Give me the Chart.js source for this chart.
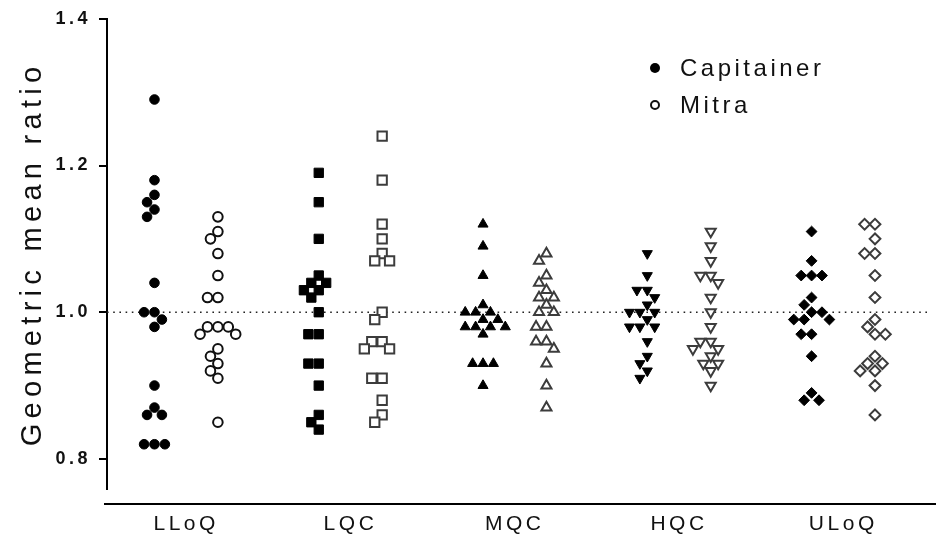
<!DOCTYPE html>
<html>
<head>
<meta charset="utf-8">
<script src="https://cdn.jsdelivr.net/npm/chart.js@4.4.1/dist/chart.umd.min.js"></script>
<style>
  body { margin: 0; background: #fff; }
  #wrap { position: relative; width: 936px; height: 546px; }
  #legend { position: absolute; left: 650px; top: 49px; font-family: "Liberation Sans", Arial, sans-serif;
            font-size: 24px; letter-spacing: 3.5px; color: #111; }
  .row { height: 37px; display: flex; align-items: center; }
  .dot { width: 10px; height: 10px; border-radius: 50%; margin-right: 20px; box-sizing: border-box; }
</style>
</head>
<body>
<div id="wrap">
  <canvas id="myChart" width="936" height="546"></canvas>
  <div id="legend"></div>
</div>
<script>
"use strict";

// groepen op de x-as
const categories = ["LLoQ", "LQC", "MQC", "HQC", "ULoQ"];
const methods = ["Capitainer", "Mitra"];
const yTicks = [0.8, 1.0, 1.2, 1.4];
const refLine = 1.0;

const capLLoQ = [1.29, 1.18, 1.16, 1.15, 1.14, 1.13, 1.04, 1.00, 1.00, 0.99, 0.98, 0.90, 0.87, 0.86, 0.86, 0.82, 0.82, 0.82];
const mitraLLoQ = [1.13, 1.11, 1.10, 1.08, 1.05, 1.02, 1.02, 0.98, 0.98, 0.98, 0.97, 0.97, 0.95, 0.94, 0.93, 0.92, 0.91, 0.85];
const capLQC = [1.19, 1.15, 1.10, 1.05, 1.04, 1.04, 1.03, 1.03, 1.02, 1.00, 0.97, 0.97, 0.93, 0.93, 0.90, 0.86, 0.85, 0.84];
const mitraLQC = [1.24, 1.18, 1.12, 1.10, 1.08, 1.07, 1.07, 1.00, 0.99, 0.96, 0.96, 0.95, 0.95, 0.91, 0.91, 0.88, 0.86, 0.85];
const capMQC = [1.12, 1.09, 1.05, 1.01, 1.00, 1.00, 1.00, 0.99, 0.99, 0.98, 0.98, 0.98, 0.98, 0.97, 0.93, 0.93, 0.93, 0.90];
const mitraMQC = [1.08, 1.07, 1.05, 1.04, 1.03, 1.02, 1.02, 1.01, 1.00, 1.00, 0.98, 0.98, 0.96, 0.96, 0.95, 0.93, 0.90, 0.87];
const capHQC = [1.08, 1.05, 1.03, 1.03, 1.02, 1.01, 1.00, 1.00, 1.00, 0.99, 0.98, 0.98, 0.98, 0.96, 0.94, 0.93, 0.92, 0.91];
const mitraHQC = [1.11, 1.09, 1.07, 1.05, 1.05, 1.04, 1.02, 1.00, 0.98, 0.96, 0.96, 0.95, 0.95, 0.94, 0.93, 0.93, 0.92, 0.90];
const capULoQ = [1.11, 1.07, 1.05, 1.05, 1.05, 1.02, 1.01, 1.00, 1.00, 0.99, 0.99, 0.99, 0.97, 0.97, 0.94, 0.89, 0.88, 0.88];
const mitraULoQ = [1.12, 1.12, 1.10, 1.08, 1.08, 1.05, 1.02, 0.99, 0.98, 0.97, 0.97, 0.94, 0.93, 0.93, 0.92, 0.92, 0.90, 0.86];

const capValues = [capLLoQ, capLQC, capMQC, capHQC, capULoQ];
const mitraValues = [mitraLLoQ, mitraLQC, mitraMQC, mitraHQC, mitraULoQ];

// symbool per groep
const shapes = [
  { style: "circle", rot: 0, r: 4.8 },
  { style: "rect", rot: 0, r: 6.6 },
  { style: "triangle", rot: 0, r: 5.8 },
  { style: "triangle", rot: 180, r: 5.8 },
  { style: "rectRot", rot: 0, r: 5.4 }
];

const xMin = -0.482, xMax = 4.512;
const yMin = 0.759, yMax = 1.4;
const pxX = 166, pxY = 738;   // ongeveer pixels per eenheid
const sideShift = 0.193;

// simpele beeswarm: punten naast elkaar leggen als ze overlappen
function swarm(values, center) {
  const D = 10.5;
  const placed = [];
  const out = [];
  const order = values.map((v, i) => i).sort((a, b) => values[b] - values[a]);
  order.forEach(i => {
    const py = values[i] * pxY;
    let dx = 0;
    for (let k = 0; k < 400; k++) {
      const cands = k === 0 ? [0] : [-k * 0.5, k * 0.5];
      const ok = cands.find(c => placed.every(p => (p.x - c) ** 2 + (p.y - py) ** 2 >= D * D));
      if (ok !== undefined) { dx = ok; break; }
    }
    placed.push({ x: dx, y: py });
    out[i] = { x: center + dx / pxX, y: values[i] };
  });
  return out;
}

const datasets = [];
categories.forEach((cat, g) => {
  const s = shapes[g];
  datasets.push({
    label: methods[0] + " " + cat,
    data: swarm(capValues[g], g - sideShift),
    pointStyle: s.style, pointRotation: s.rot, pointRadius: s.r,
    backgroundColor: "#000", borderColor: "#000", borderWidth: 1
  });
  datasets.push({
    label: methods[1] + " " + cat,
    data: swarm(mitraValues[g], g + sideShift),
    pointStyle: s.style, pointRotation: s.rot, pointRadius: s.r,
    backgroundColor: "#fff", borderColor: g === 0 ? "#111" : "#3c3c3c", borderWidth: 2
  });
});

// stippellijn op 1.0
datasets.push({
  type: "line",
  label: "ref",
  data: [{ x: xMin, y: refLine }, { x: xMax, y: refLine }],
  borderColor: "#222", borderWidth: 1.6, borderDash: [1.6, 4.6],
  pointRadius: 0, order: 5
});

// letterafstand zoals in het origineel (titel iets ruimer)
const spacing = {
  id: "spacing",
  beforeDraw(chart) {
    chart.ctx.letterSpacing = "3.5px";
    const y = chart.scales.y;
    if (y && !y._wideTitle) {
      const orig = y.drawTitle.bind(y);
      y.drawTitle = function () {
        const c = this.ctx;
        const old = c.letterSpacing;
        c.letterSpacing = "5.3px";
        orig();
        c.letterSpacing = old;
      };
      y._wideTitle = true;
    }
  }
};

// losse x-as lijn onder de plot
const xLine = {
  id: "xLine",
  afterDraw(chart) {
    const ctx = chart.ctx;
    ctx.save();
    ctx.strokeStyle = "#000";
    ctx.lineWidth = 2;
    ctx.beginPath();
    ctx.moveTo(chart.chartArea.left - 3, chart.chartArea.bottom + 15);
    ctx.lineTo(chart.width, chart.chartArea.bottom + 15);
    ctx.stroke();
    ctx.restore();
  }
};

new Chart(document.getElementById("myChart"), {
  type: "scatter",
  data: { datasets: datasets },
  plugins: [spacing, xLine],
  options: {
    responsive: false,
    animation: false,
    events: [],
    layout: { padding: { top: 16, right: 0, left: 0, bottom: 0 } },
    plugins: { legend: { display: false }, tooltip: { enabled: false } },
    scales: {
      x: {
        type: "linear", min: xMin, max: xMax,
        afterBuildTicks: axis => { axis.ticks = categories.map((c, i) => ({ value: i })); },
        afterFit: axis => { axis.height = 57; },
        ticks: {
          callback: v => categories[v],
          font: { family: "Liberation Sans, Arial", size: 21 },
          color: "#111", padding: 23, maxRotation: 0
        },
        grid: { display: false, drawTicks: false },
        border: { display: false }
      },
      y: {
        min: yMin, max: yMax,
        afterBuildTicks: axis => { axis.ticks = yTicks.map(v => ({ value: v })); },
        afterFit: axis => { axis.width = 107; },
        ticks: {
          callback: v => v.toFixed(1),
          font: { family: "Liberation Sans, Arial", size: 18, weight: "bold" },
          color: "#111", padding: 8
        },
        grid: { drawOnChartArea: false, drawTicks: true, tickLength: 8, color: "#000", lineWidth: 2 },
        border: { display: true, color: "#000", width: 2 },
        title: {
          display: true, text: "Geometric mean ratio",
          font: { family: "Liberation Sans, Arial", size: 29 },
          color: "#111", padding: { top: 16, bottom: 0 }
        }
      }
    }
  }
});

// legenda als html
const legendEl = document.getElementById("legend");
methods.forEach((m, i) => {
  const row = document.createElement("div");
  row.className = "row";
  const dot = document.createElement("span");
  dot.className = "dot";
  dot.style.background = i === 0 ? "#000" : "#fff";
  dot.style.border = i === 0 ? "none" : "2px solid #111";
  row.appendChild(dot);
  row.appendChild(document.createTextNode(m));
  legendEl.appendChild(row);
});
</script>
</body>
</html>
